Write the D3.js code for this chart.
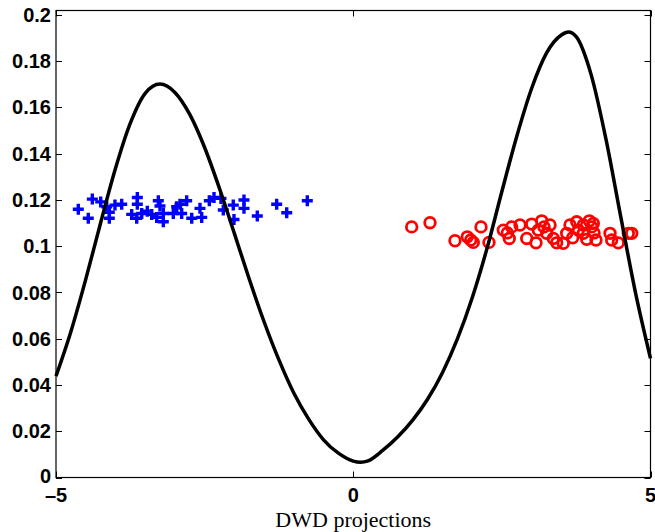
<!DOCTYPE html>
<html>
<head>
<meta charset="utf-8">
<script src="https://cdn.jsdelivr.net/npm/d3@7"></script>
<style>
  html, body { margin: 0; padding: 0; background: #fff; }
  svg { display: block; }
</style>
</head>
<body>
<svg id="chart" width="655" height="532"></svg>
<script>
// ---- data ----
const curveX = [-5, -4.75, -4.5, -4.25, -4, -3.75, -3.5, -3.25, -3, -2.75, -2.5, -2.25, -2, -1.75, -1.5, -1.25, -1, -0.75, -0.5, -0.25, 0, 0.12, 0.25, 0.5, 0.75, 1, 1.25, 1.5, 1.75, 2, 2.25, 2.5, 2.75, 3, 3.25, 3.5, 3.62, 3.75, 4, 4.25, 4.5, 4.75, 5];
const curveY = [0.0438, 0.0630, 0.0856, 0.1100, 0.1335, 0.1531, 0.1660, 0.1700, 0.1664, 0.1569, 0.1426, 0.1249, 0.1055, 0.0858, 0.0673, 0.0508, 0.0365, 0.0252, 0.0163, 0.0105, 0.0071, 0.0066, 0.0072, 0.0118, 0.0176, 0.0248, 0.0338, 0.0453, 0.0598, 0.0776, 0.0990, 0.1236, 0.1474, 0.1681, 0.1834, 0.1912, 0.1925, 0.1905, 0.1742, 0.1463, 0.1126, 0.0796, 0.0515];

const blueX = [-4.625, -4.389, -4.457, -4.248, -4.147, -4.103, -4.103, -4.008, -3.895, -3.632, -3.632, -3.727, -3.642, -3.558, -3.464, -3.390, -3.279, -3.251, -3.306, -3.195, -3.195, -3.027, -2.970, -2.914, -2.802, -2.886, -2.717, -2.578, -2.549, -2.421, -2.342, -2.225, -2.186, -2.018, -2.006, -1.838, -1.838, -1.614, -1.288, -1.119, -0.773];
const blueY = [0.1159, 0.1203, 0.1120, 0.1191, 0.1170, 0.1146, 0.1120, 0.1177, 0.1181, 0.1210, 0.1181, 0.1137, 0.1120, 0.1141, 0.1151, 0.1137, 0.1196, 0.1173, 0.1124, 0.1141, 0.1105, 0.1141, 0.1170, 0.1181, 0.1196, 0.1141, 0.1120, 0.1163, 0.1124, 0.1196, 0.1210, 0.1206, 0.1156, 0.1177, 0.1115, 0.1199, 0.1163, 0.1130, 0.1181, 0.1144, 0.1196];

const redX = [0.983, 1.291, 1.711, 1.918, 1.976, 2.019, 2.149, 2.283, 2.524, 2.591, 2.625, 2.665, 2.805, 2.918, 3.002, 3.074, 3.113, 3.170, 3.209, 3.254, 3.310, 3.365, 3.422, 3.533, 3.590, 3.646, 3.691, 3.759, 3.786, 3.870, 3.927, 3.971, 4.011, 4.050, 4.083, 4.038, 4.319, 4.347, 4.458, 4.627, 4.684, 3.870];
const redY = [0.1083, 0.1101, 0.1023, 0.1040, 0.1026, 0.1016, 0.1083, 0.1016, 0.1069, 0.1057, 0.1033, 0.1083, 0.1091, 0.1033, 0.1095, 0.1014, 0.1069, 0.1109, 0.1083, 0.1055, 0.1091, 0.1033, 0.1014, 0.1012, 0.1055, 0.1091, 0.1036, 0.1105, 0.1069, 0.1055, 0.1029, 0.1109, 0.1083, 0.1057, 0.1026, 0.1098, 0.1055, 0.1026, 0.1014, 0.1055, 0.1055, 0.1091];

const xTicks = [-5, 0, 5];
const xTickLabels = ["\u20135", "0", "5"];
const yTicks = [0, 0.02, 0.04, 0.06, 0.08, 0.1, 0.12, 0.14, 0.16, 0.18, 0.2];
const yTickLabels = ["0", "0.02", "0.04", "0.06", "0.08", "0.1", "0.12", "0.14", "0.16", "0.18", "0.2"];
const xLabel = "DWD projections";

// ---- layout ----
const L = 56, R = 650.5, T = 10.5, B = 477.5;
const x = d3.scaleLinear().domain([-5, 5]).range([L, R]);
const y = d3.scaleLinear().domain([0, 0.2018]).range([B, T]);

const svg = d3.select("#chart");
const g = svg.append("g");

// points
const plusSize = 5.5;
const blue = g.append("g");
blueX.forEach((bx, i) => {
  const cx = x(bx), cy = y(blueY[i]);
  blue.append("path")
    .attr("d", `M${cx - plusSize},${cy}H${cx + plusSize}M${cx},${cy - plusSize}V${cy + plusSize}`)
    .attr("stroke", "#0000ff").attr("stroke-width", 3.4).attr("fill", "none");
});
const red = g.append("g");
redX.forEach((rx, i) => {
  red.append("circle")
    .attr("cx", x(rx)).attr("cy", y(redY[i])).attr("r", 5.3)
    .attr("stroke", "#ff0000").attr("stroke-width", 2.8).attr("fill", "none");
});

// curve
const pts = curveX.map((cx, i) => [cx, curveY[i]]);
g.append("path")
  .datum(pts)
  .attr("d", d3.line().x(d => x(d[0])).y(d => y(d[1])).curve(d3.curveMonotoneX))
  .attr("fill", "none").attr("stroke", "#000").attr("stroke-width", 3.5)
  .attr("stroke-linejoin", "round");

// axes box
const axisG = svg.append("g");
axisG.append("rect").attr("x", L).attr("y", T).attr("width", R - L).attr("height", B - T)
  .attr("fill", "none").attr("stroke", "#000").attr("stroke-width", 1.2);

const tickLen = 6;
const font = "'Liberation Sans', Arial, Helvetica, sans-serif";
yTicks.forEach((t, i) => {
  const yy = Math.round(y(t)) + 0.5;
  axisG.append("line").attr("x1", L).attr("x2", L + tickLen).attr("y1", yy).attr("y2", yy)
    .attr("stroke", "#000").attr("stroke-width", 1);
  axisG.append("line").attr("x1", R - tickLen).attr("x2", R).attr("y1", yy).attr("y2", yy)
    .attr("stroke", "#000").attr("stroke-width", 1);
  axisG.append("text").attr("x", L - 5).attr("y", y(t) - (i === 0 ? 1.5 : 0)).attr("dy", "0.36em")
    .attr("text-anchor", "end").attr("font-family", font).attr("font-weight", "bold")
    .attr("font-size", 20).text(yTickLabels[i]);
});
xTicks.forEach((t, i) => {
  const xx = Math.round(x(t)) + 0.5;
  axisG.append("line").attr("x1", xx).attr("x2", xx).attr("y1", B).attr("y2", B - tickLen)
    .attr("stroke", "#000").attr("stroke-width", 1);
  axisG.append("line").attr("x1", xx).attr("x2", xx).attr("y1", T).attr("y2", T + tickLen)
    .attr("stroke", "#000").attr("stroke-width", 1);
  axisG.append("text").attr("x", x(t)).attr("y", B + 24.5)
    .attr("text-anchor", "middle").attr("font-family", font).attr("font-weight", "bold")
    .attr("font-size", 20).text(xTickLabels[i]);
});

svg.append("text").attr("x", (L + R) / 2).attr("y", 527)
  .attr("text-anchor", "middle").attr("font-family", "'Liberation Serif', 'Times New Roman', serif")
  .attr("font-size", 22).text(xLabel);
</script>
</body>
</html>
